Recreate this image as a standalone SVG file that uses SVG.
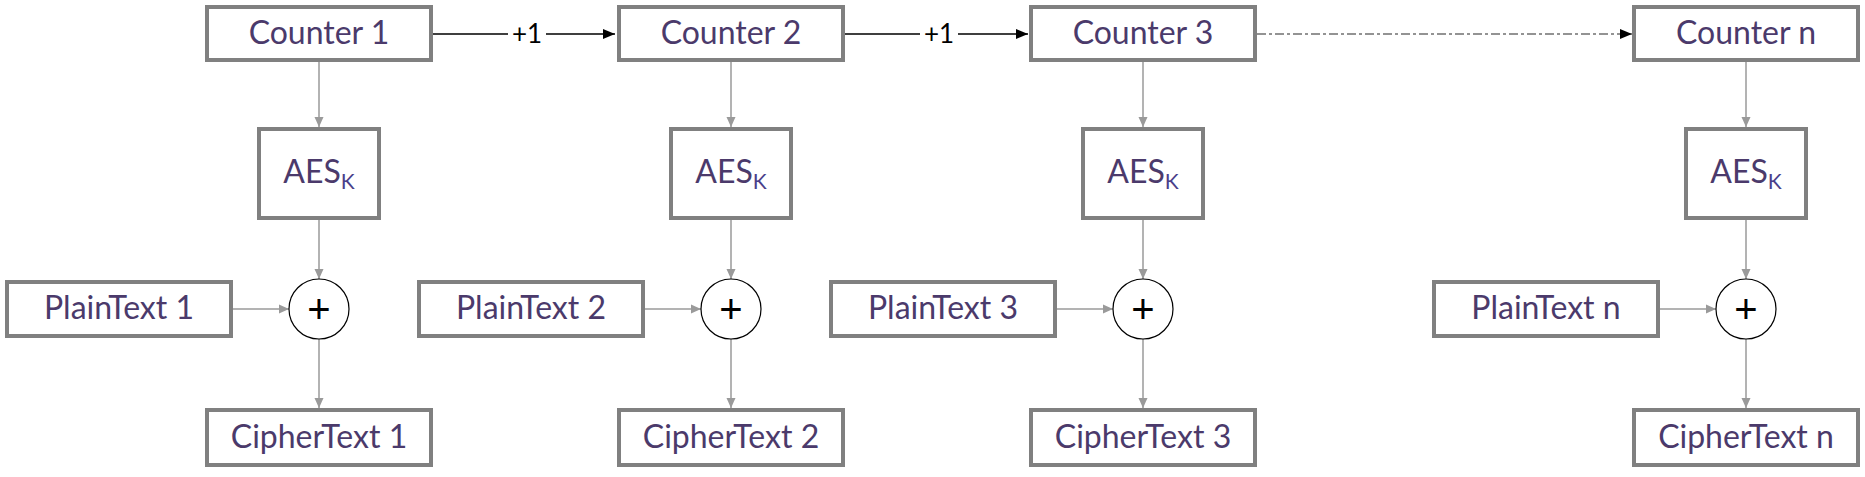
<svg xmlns="http://www.w3.org/2000/svg" width="1865" height="477" viewBox="0 0 1865 477">
<style>
.box{fill:#fff;stroke:#808080;stroke-width:4}
.lbl{font-family:Lato,"Open Sans",sans-serif;font-size:32px;font-weight:400;fill:#4b3a6b;text-anchor:middle}
.sub{font-size:21px;fill:#4a3f8a}
.xor{fill:#fff;stroke:#000;stroke-width:1.2}
.plus{font-family:"Liberation Sans",sans-serif;font-size:40px;fill:#000;text-anchor:middle}
.g{fill:none;stroke:#9a9a9a;stroke-width:1.5;marker-end:url(#ga)}
.k{fill:none;stroke:#000;stroke-width:1.5;marker-end:url(#ka)}
.dd{fill:none;stroke:#707070;stroke-width:1.5;stroke-dasharray:9 3 3 3;marker-end:url(#ka)}
.inc{font-family:Lato,"Open Sans",sans-serif;font-size:26px;fill:#000;text-anchor:middle}
</style>
<defs>
<marker id="ga" markerUnits="userSpaceOnUse" markerWidth="10" markerHeight="10" refX="10" refY="5" orient="auto"><path d="M0,0.5 L10,5 L0,9.5 Z" fill="#9a9a9a"/></marker>
<marker id="ka" markerUnits="userSpaceOnUse" markerWidth="12" markerHeight="10" refX="12" refY="5" orient="auto"><path d="M0,0 L12,5 L0,10 Z" fill="#000"/></marker>
</defs>
<rect width="1865" height="477" fill="#fff"/>
<g id="connectors">
<path class="k" d="M433 34 H508 M546 34 H615"/>
<text class="inc" x="527" y="43">+1</text>
<path class="k" d="M845 34 H920 M958 34 H1028"/>
<text class="inc" x="939" y="43">+1</text>
<path class="dd" d="M1257 34 H1632"/>
<path class="g" d="M319 62 V127"/><path class="g" d="M319 220 V279"/><path class="g" d="M233 309 H289"/><path class="g" d="M319 339 V408"/>
<path class="g" d="M731 62 V127"/><path class="g" d="M731 220 V279"/><path class="g" d="M645 309 H701"/><path class="g" d="M731 339 V408"/>
<path class="g" d="M1143 62 V127"/><path class="g" d="M1143 220 V279"/><path class="g" d="M1057 309 H1113"/><path class="g" d="M1143 339 V408"/>
<path class="g" d="M1746 62 V127"/><path class="g" d="M1746 220 V279"/><path class="g" d="M1660 309 H1716"/><path class="g" d="M1746 339 V408"/>
</g>
<g id="counter1"><rect class="box" x="207" y="7" width="224" height="53"/><text class="lbl" x="319" y="44">Counter 1</text></g>
<g id="counter2"><rect class="box" x="619" y="7" width="224" height="53"/><text class="lbl" x="731" y="44">Counter 2</text></g>
<g id="counter3"><rect class="box" x="1031" y="7" width="224" height="53"/><text class="lbl" x="1143" y="44">Counter 3</text></g>
<g id="countern"><rect class="box" x="1634" y="7" width="224" height="53"/><text class="lbl" x="1746" y="44">Counter n</text></g>
<g id="aes1"><rect class="box" x="259" y="129" width="120" height="89"/><text class="lbl" x="319" y="183">AES<tspan class="sub" dy="6">K</tspan></text></g>
<g id="aes2"><rect class="box" x="671" y="129" width="120" height="89"/><text class="lbl" x="731" y="183">AES<tspan class="sub" dy="6">K</tspan></text></g>
<g id="aes3"><rect class="box" x="1083" y="129" width="120" height="89"/><text class="lbl" x="1143" y="183">AES<tspan class="sub" dy="6">K</tspan></text></g>
<g id="aesn"><rect class="box" x="1686" y="129" width="120" height="89"/><text class="lbl" x="1746" y="183">AES<tspan class="sub" dy="6">K</tspan></text></g>
<g id="plain1"><rect class="box" x="7" y="282" width="224" height="54"/><text class="lbl" x="119" y="319">PlainText 1</text></g>
<g id="plain2"><rect class="box" x="419" y="282" width="224" height="54"/><text class="lbl" x="531" y="319">PlainText 2</text></g>
<g id="plain3"><rect class="box" x="831" y="282" width="224" height="54"/><text class="lbl" x="943" y="319">PlainText 3</text></g>
<g id="plainn"><rect class="box" x="1434" y="282" width="224" height="54"/><text class="lbl" x="1546" y="319">PlainText n</text></g>
<g id="xor1"><circle class="xor" cx="319" cy="309" r="30"/><text class="plus" x="319" y="323">+</text></g>
<g id="xor2"><circle class="xor" cx="731" cy="309" r="30"/><text class="plus" x="731" y="323">+</text></g>
<g id="xor3"><circle class="xor" cx="1143" cy="309" r="30"/><text class="plus" x="1143" y="323">+</text></g>
<g id="xorn"><circle class="xor" cx="1746" cy="309" r="30"/><text class="plus" x="1746" y="323">+</text></g>
<g id="cipher1"><rect class="box" x="207" y="410" width="224" height="55"/><text class="lbl" x="319" y="448">CipherText 1</text></g>
<g id="cipher2"><rect class="box" x="619" y="410" width="224" height="55"/><text class="lbl" x="731" y="448">CipherText 2</text></g>
<g id="cipher3"><rect class="box" x="1031" y="410" width="224" height="55"/><text class="lbl" x="1143" y="448">CipherText 3</text></g>
<g id="ciphern"><rect class="box" x="1634" y="410" width="224" height="55"/><text class="lbl" x="1746" y="448">CipherText n</text></g>
</svg>
